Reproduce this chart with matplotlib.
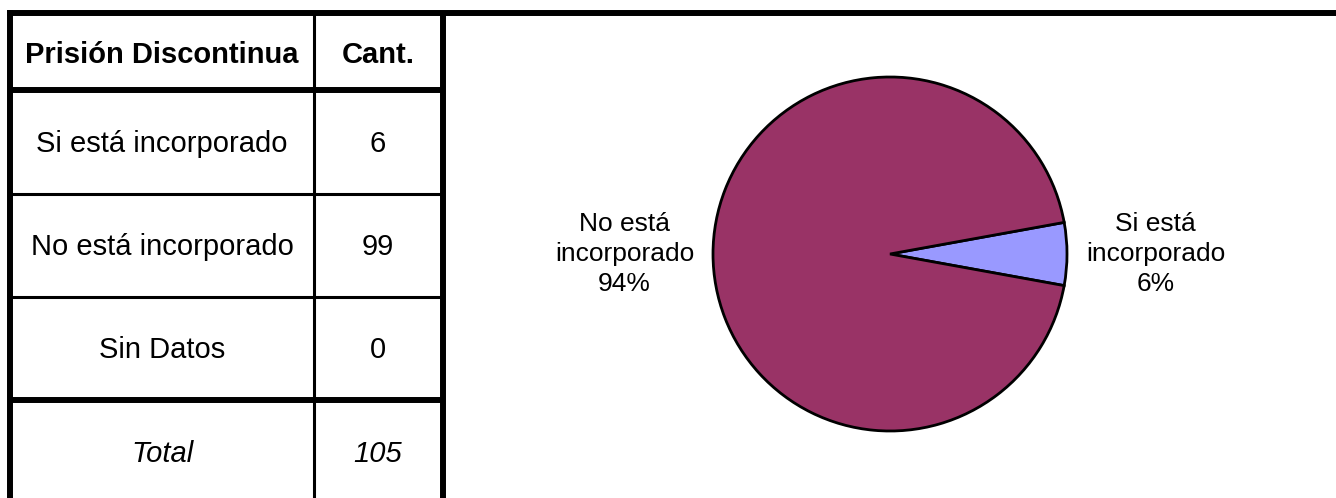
import matplotlib.pyplot as plt

plt.rcParams['font.family'] = ['Liberation Sans', 'DejaVu Sans']

header = ['Prisión Discontinua', 'Cant.']
categorias = ['Si está incorporado', 'No está incorporado', 'Sin Datos']
cantidades = [6, 99, 0]
total_label = 'Total'
total = sum(cantidades)
pie_labels = ['Si está\nincorporado', 'No está\nincorporado', 'Sin Datos']
colores = ['#9999FF', '#993366', '#FFFFCC']

W, H = 1336, 498
fig = plt.figure(figsize=(W / 100, H / 100), dpi=100)

# table drawn in pixel coords
tab = fig.add_axes([0, 0, 1, 1])
tab.set_xlim(0, W)
tab.set_ylim(H, 0)
tab.axis('off')

thick = 4.3
thin = 2.2
tab.plot([7, W], [13, 13], color='black', lw=thick, solid_capstyle='butt')
tab.plot([10, 10], [10, H], color='black', lw=thick, solid_capstyle='butt')
tab.plot([442.5, 442.5], [13, H], color='black', lw=thick, solid_capstyle='butt')
tab.plot([314, 314], [13, H], color='black', lw=thin, solid_capstyle='butt')
tab.plot([10, 442.5], [90, 90], color='black', lw=thick, solid_capstyle='butt')
tab.plot([10, 442.5], [194, 194], color='black', lw=thin, solid_capstyle='butt')
tab.plot([10, 442.5], [297, 297], color='black', lw=thin, solid_capstyle='butt')
tab.plot([10, 442.5], [400, 400], color='black', lw=thick, solid_capstyle='butt')

col_x = [162, 378]
fs = 21
tab.text(col_x[0], 63, header[0], ha='center', va='baseline', fontsize=fs, fontweight='bold')
tab.text(col_x[1], 63, header[1], ha='center', va='baseline', fontsize=fs, fontweight='bold')
row_base = [152, 255, 358]
for yb, cat, n in zip(row_base, categorias, cantidades):
    tab.text(col_x[0], yb, cat, ha='center', va='baseline', fontsize=fs)
    tab.text(col_x[1], yb, str(n), ha='center', va='baseline', fontsize=fs)
tab.text(col_x[0], 462, total_label, ha='center', va='baseline', fontsize=fs, style='italic')
tab.text(col_x[1], 462, str(total), ha='center', va='baseline', fontsize=fs, style='italic')

# pie
cx, cy, r = 890, 254, 177
ax = fig.add_axes([(cx - r) / W, (H - cy - r) / H, 2 * r / W, 2 * r / H])
vals = [v for v in cantidades if v > 0]
labs = [f'{l}\n{round(100 * v / total)}%' for l, v in zip(pie_labels, cantidades) if v > 0]
cols = [c for c, v in zip(colores, cantidades) if v > 0]
start = -180 * vals[0] / total
wedges, texts = ax.pie(vals, labels=labs, colors=cols, startangle=start,
                       labeldistance=1.5, radius=1,
                       wedgeprops=dict(edgecolor='black', linewidth=2),
                       textprops=dict(fontsize=19, linespacing=1.3))
for t in texts:
    t.set_ha('center')
    t.set_va('center')
    t.set_clip_on(False)
ax.set_xlim(-1, 1)
ax.set_ylim(-1, 1)
ax.set_aspect('equal')

fig.savefig('out.png', dpi=100)
